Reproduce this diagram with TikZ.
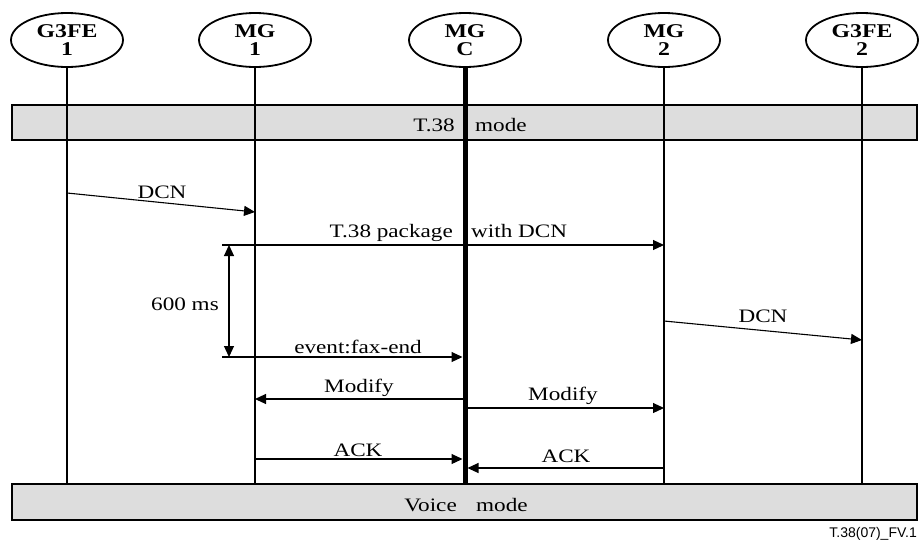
\documentclass[tikz,border=0pt]{standalone}
\usepackage{fontspec}
\setmainfont[FakeStretch=1.22]{Liberation Serif}
\newfontfamily\tagfont{Liberation Sans}
\usetikzlibrary{arrows.meta,shapes.geometric}

\begin{document}
\begin{tikzpicture}[x=1pt,y=-1pt,>={Triangle[length=11pt,width=10pt]},
  ent/.style={ellipse,draw,line width=1.8pt,minimum width=112pt,minimum height=54pt,
    inner sep=0pt,align=center,font=\fontsize{19.5}{18}\selectfont\bfseries},
  life/.style={line width=1.1pt},
  bar/.style={draw,line width=2pt,fill=gray!27},
  msg/.style={->,line width=1.1pt},
  lbl/.style={font=\fontsize{19}{21}\selectfont,inner sep=0pt}]
\useasboundingbox (0,0) rectangle (919,542);
% mode bars
\draw[bar] (12,105) rectangle (917,140);
\draw[bar] (12,484) rectangle (917,520);
\node[lbl,anchor=base east] (t38a) at (455,131) {T.38};
\node[lbl,anchor=base west] (t38b) at (475,131) {mode};
\node[lbl,anchor=base east] (voa) at (457,511) {Voice};
\node[lbl,anchor=base west] (vob) at (476,511) {mode};
% entities and lifelines
\node[ent] (g1) at (67,40) {G3FE\\1};
\node[ent] (mg1) at (255,40) {MG\\1};
\node[ent] (mgc) at (465,40) {MG\\C};
\node[ent] (mg2) at (664,40) {MG\\2};
\node[ent] (g2) at (862,40) {G3FE\\2};
\coordinate (low) at (0,484);
\foreach \n in {g1,mg1,mg2,g2}
  \draw[life] (\n.south) -- (\n.south |- low);
\draw[line width=5pt] (mgc.south) -- (mgc.south |- low);
\coordinate (mgcL) at ([xshift=-2.5pt]mgc.south);
\coordinate (mgcR) at ([xshift=2.5pt]mgc.south);
% messages
\draw[msg] (g1 |- 0,193) -- (mg1 |- 0,212);
\node[lbl,anchor=base] (dcn1) at (162,198) {DCN};
\coordinate (tstart) at (222,245);
\coordinate (tend) at (222,357);
\draw[msg] (tstart) -- (mg2 |- tstart);
\node[lbl,anchor=base east] (pkga) at (453,237) {T.38 package};
\node[lbl,anchor=base west] (pkgb) at (471,237) {with DCN};
\draw[<->,line width=1.1pt] ([xshift=7pt]tstart) -- ([xshift=7pt]tend);
\node[lbl,anchor=base] (wait) at (185,310) {600 ms};
\draw[msg] (tend) -- (mgcL |- tend);
\node[lbl,anchor=base] (fax) at (358,353) {event:fax-end};
\draw[msg] (mg2 |- 0,321) -- (g2 |- 0,340);
\node[lbl,anchor=base] (dcn2) at (763,322) {DCN};
\draw[msg] (mgcL |- 0,399) -- (mg1 |- 0,399);
\node[lbl,anchor=base] (moda) at (359,392) {Modify};
\draw[msg] (mgcR |- 0,408) -- (mg2 |- 0,408);
\node[lbl,anchor=base] (modb) at (563,400) {Modify};
\draw[msg] (mg1 |- 0,459) -- (mgcL |- 0,459);
\node[lbl,anchor=base] (acka) at (358,456) {ACK};
\draw[msg] (mg2 |- 0,468) -- (mgcR |- 0,468);
\node[lbl,anchor=base] (ackb) at (566,462) {ACK};
% figure tag
\node[font=\tagfont\fontsize{14}{16}\selectfont,anchor=base east,inner sep=0pt] (tag) at (917,537) {T.38(07)\_FV.1};
\end{tikzpicture}
\end{document}
